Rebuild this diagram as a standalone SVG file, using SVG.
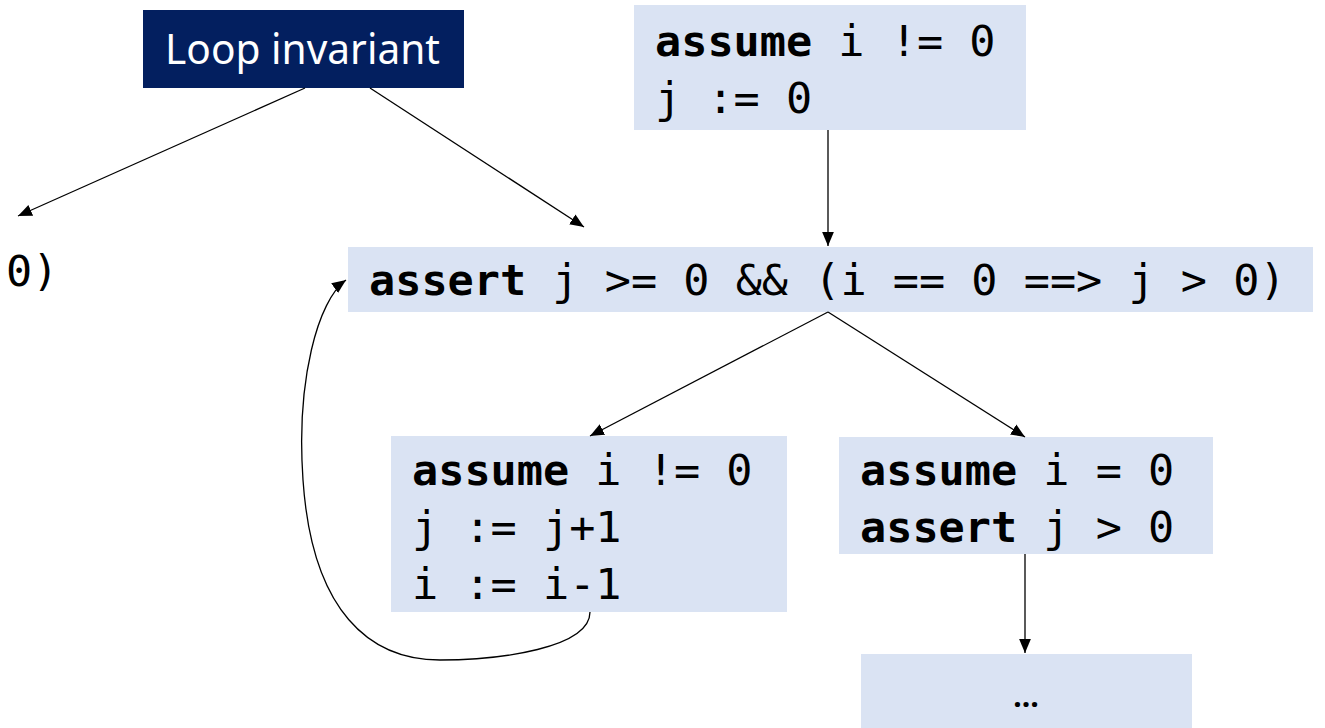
<svg xmlns="http://www.w3.org/2000/svg" width="1325" height="728" viewBox="0 0 1325 728">
  <style>
    .box { fill: #DAE3F3; }
    .code { font-family: "DejaVu Sans Mono", "Liberation Mono", monospace; font-size: 43.5px; fill: #000; }
    .kw { font-weight: bold; }
    .edge { fill: none; stroke: #000; stroke-width: 1.3; marker-end: url(#arrow); }
  </style>
  <defs>
    <marker id="arrow" viewBox="0 0 10 10" refX="10" refY="5" markerWidth="14" markerHeight="14" markerUnits="userSpaceOnUse" orient="auto">
      <path d="M0,0.8 L10,5 L0,9.2 z" fill="#000"/>
    </marker>
  </defs>
  <rect width="1325" height="728" fill="#fff"/>

  <!-- Loop invariant label -->
  <g id="loop-invariant">
    <rect x="143" y="10" width="321" height="78" fill="#031F5F"/>
    <text x="165" y="64" font-family="Noto Sans, Open Sans, sans-serif" font-size="41" fill="#fff" textLength="275" lengthAdjust="spacingAndGlyphs">Loop invariant</text>
  </g>

  <!-- clipped tail of a previous assertion -->
  <g id="prev-tail">
    <text class="code" x="6" y="286">0)</text>
  </g>

  <g id="init">
    <rect class="box" x="634" y="5" width="392" height="125"/>
    <text class="code" x="655" y="56"><tspan class="kw">assume</tspan> i != 0</text>
    <text class="code" x="655" y="113">j := 0</text>
  </g>

  <g id="loop-head">
    <rect class="box" x="348" y="247" width="965" height="65"/>
    <text class="code" x="369" y="295"><tspan class="kw">assert</tspan> j &gt;= 0 &amp;&amp; (i == 0 ==&gt; j &gt; 0)</text>
  </g>

  <g id="loop-body">
    <rect class="box" x="391" y="436" width="396" height="176"/>
    <text class="code" x="412" y="485"><tspan class="kw">assume</tspan> i != 0</text>
    <text class="code" x="412" y="542">j := j+1</text>
    <text class="code" x="412" y="599">i := i-1</text>
  </g>

  <g id="loop-exit">
    <rect class="box" x="839" y="437" width="374" height="117"/>
    <text class="code" x="860" y="485"><tspan class="kw">assume</tspan> i = 0</text>
    <text class="code" x="860" y="542"><tspan class="kw">assert</tspan> j &gt; 0</text>
  </g>

  <g id="rest">
    <rect class="box" x="861" y="654" width="331" height="74"/>
    <text x="1026" y="707" text-anchor="middle" font-family="Noto Sans, sans-serif" font-size="30" font-weight="bold">…</text>
  </g>

  <g id="connectors">
    <path class="edge" d="M305,88 L18,216"/>
    <path class="edge" d="M370,88 L584,227"/>
    <path class="edge" d="M828,130 L828,246"/>
    <path class="edge" d="M828,312 L590,436"/>
    <path class="edge" d="M828,312 L1025,437"/>
    <path class="edge" d="M1025,554 L1025,653"/>
    <path class="edge" d="M590,612 C590,648 500,660 440,660 C370,660 312,612 303,480 C296,380 318,300 346,280"/>
  </g>
</svg>
